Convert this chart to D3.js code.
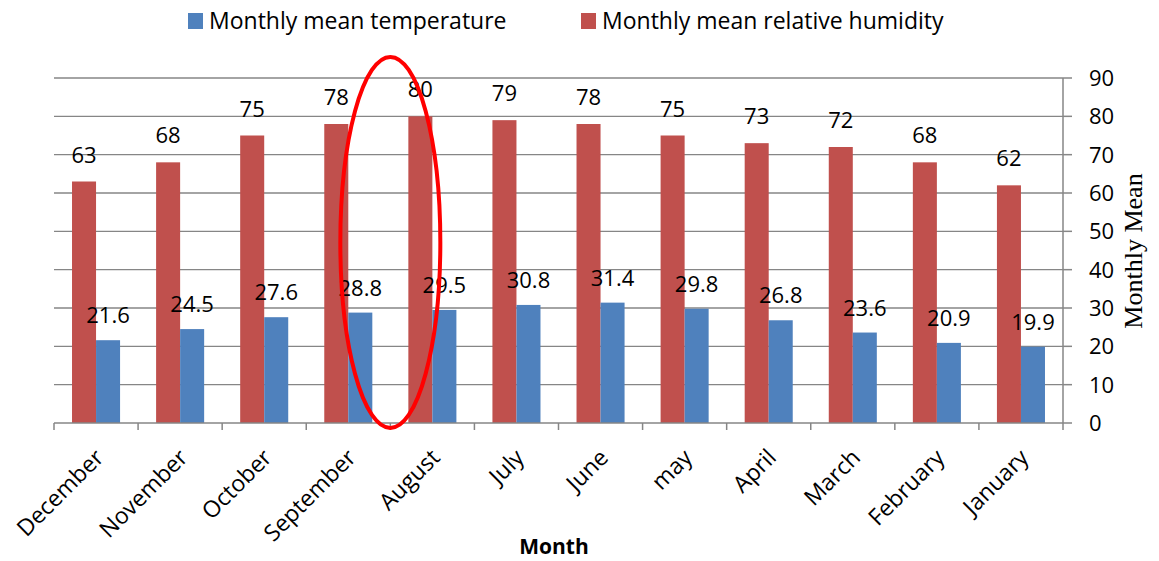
<!DOCTYPE html>
<html><head><meta charset="utf-8">
<script src="https://cdn.jsdelivr.net/npm/d3@7"></script>
<style>body{margin:0;background:#fff}svg{display:block}</style>
</head><body>
<svg id="c" width="1159" height="561"></svg>
<script>
const months = ["December","November","October","September","August","July","June","may","April","March","February","January"];
const humidity = [63,68,75,78,80,79,78,75,73,72,68,62];
const temperature = [21.6,24.5,27.6,28.8,29.5,30.8,31.4,29.8,26.8,23.6,20.9,19.9];
const yTicks = [0,10,20,30,40,50,60,70,80,90];
const seriesNames = ["Monthly mean temperature","Monthly mean relative humidity"];

const svg = d3.select("#c");
const m={left:54,right:1063,top:78,bottom:423};
const font="'Open Sans', Lato, sans-serif";
const red="#C0504D", blue="#4F81BD", grid="#868686";

const x = d3.scaleBand().domain(months).range([m.left,m.right]).paddingInner(0).paddingOuter(0);
const y = d3.scaleLinear().domain([0,90]).range([m.bottom,m.top]);
const inner = d3.scaleBand().domain(["h","t"]).range([0,x.bandwidth()]).paddingOuter(0.75).paddingInner(0);

// gridlines
svg.append("g").selectAll("line").data(yTicks.filter(d=>d>0)).join("line")
  .attr("x1",m.left).attr("x2",m.right).attr("y1",d=>y(d)).attr("y2",d=>y(d))
  .attr("stroke",grid).attr("stroke-width",1.3);

// bars
const g = svg.append("g");
g.selectAll("rect.h").data(months).join("rect").attr("class","h")
  .attr("x",d=>x(d)+inner("h")).attr("width",inner.bandwidth())
  .attr("y",(d,i)=>y(humidity[i])).attr("height",(d,i)=>y(0)-y(humidity[i])).attr("fill",red);
g.selectAll("rect.t").data(months).join("rect").attr("class","t")
  .attr("x",d=>x(d)+inner("t")).attr("width",inner.bandwidth())
  .attr("y",(d,i)=>y(temperature[i])).attr("height",(d,i)=>y(0)-y(temperature[i])).attr("fill",blue);

// data labels
g.selectAll("text.hl").data(months).join("text").attr("class","hl")
  .attr("x",d=>x(d)+inner("h")+inner.bandwidth()/2).attr("y",(d,i)=>y(humidity[i])-19)
  .attr("text-anchor","middle").attr("font-family",font).attr("font-size",22).attr("fill","#000")
  .text((d,i)=>humidity[i]);
g.selectAll("text.tl").data(months).join("text").attr("class","tl")
  .attr("x",d=>x(d)+inner("t")+inner.bandwidth()/2).attr("y",(d,i)=>y(temperature[i])-17)
  .attr("text-anchor","middle").attr("font-family",font).attr("font-size",22).attr("fill","#000")
  .text((d,i)=>temperature[i].toFixed(1));

// x axis
const xa = svg.append("g");
xa.append("line").attr("x1",m.left).attr("x2",m.right).attr("y1",m.bottom).attr("y2",m.bottom).attr("stroke",grid).attr("stroke-width",1.5);
const bounds = months.map(d=>x(d)).concat([m.right]);
xa.selectAll("line.tk").data(bounds).join("line").attr("class","tk")
  .attr("x1",d=>d).attr("x2",d=>d).attr("y1",m.bottom).attr("y2",m.bottom+7).attr("stroke",grid).attr("stroke-width",1.5);
xa.selectAll("text").data(months).join("text")
  .attr("transform",d=>`translate(${x(d)+x.bandwidth()/2+9},${m.bottom+36}) rotate(-45)`)
  .attr("text-anchor","end").attr("font-family",font).attr("font-size",23).attr("fill","#000")
  .text(d=>d);
svg.append("text").attr("x",554).attr("y",554).attr("text-anchor","middle")
  .attr("font-family",font).attr("font-weight","bold").attr("font-size",21).text("Month");

// right y axis
const ya = svg.append("g");
ya.append("line").attr("x1",m.right).attr("x2",m.right).attr("y1",m.top).attr("y2",m.bottom).attr("stroke",grid).attr("stroke-width",1.5);
ya.selectAll("line.tk").data(yTicks).join("line").attr("class","tk")
  .attr("x1",m.right).attr("x2",m.right+9).attr("y1",d=>y(d)).attr("y2",d=>y(d)).attr("stroke",grid).attr("stroke-width",1.5);
ya.selectAll("text").data(yTicks).join("text")
  .attr("x",m.right+26).attr("y",d=>y(d)).attr("dy","0.36em")
  .attr("font-family",font).attr("font-size",22).attr("fill","#000").text(d=>d);
svg.append("text").attr("transform",`translate(1142,251) rotate(-90)`).attr("text-anchor","middle")
  .attr("font-family","'Liberation Serif', 'Times New Roman', serif").attr("font-size",26).text("Monthly Mean");

// legend
const leg = [{n:seriesNames[0],c:blue,x:188},{n:seriesNames[1],c:red,x:581}];
const lg = svg.append("g").selectAll("g").data(leg).join("g").attr("transform",d=>`translate(${d.x},0)`);
lg.append("rect").attr("x",0).attr("y",13).attr("width",15).attr("height",16).attr("fill",d=>d.c);
lg.append("text").attr("x",21).attr("y",28.5).attr("font-family",font).attr("font-size",23).text(d=>d.n);

// annotation ellipse
svg.append("ellipse").attr("cx",x("August")).attr("cy",(y(95.5)+y(-1.3))/2)
  .attr("rx",50).attr("ry",(y(-1.3)-y(95.5))/2)
  .attr("fill","none").attr("stroke","#ff0000").attr("stroke-width",4);
</script>
</body></html>
